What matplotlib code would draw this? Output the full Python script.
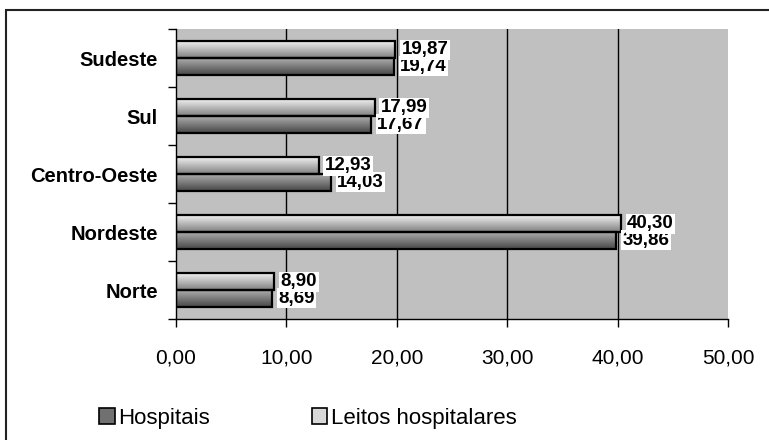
import numpy as np
import matplotlib
matplotlib.use('Agg')
import matplotlib.pyplot as plt
from matplotlib.patches import Rectangle
from matplotlib.ticker import MultipleLocator

plt.rcParams['font.family'] = ['Liberation Sans', 'DejaVu Sans']

# regiões, de baixo para cima
regioes = ['Norte', 'Nordeste', 'Centro-Oeste', 'Sul', 'Sudeste']
hospitais = [8.69, 39.86, 14.03, 17.67, 19.74]
leitos = [8.90, 40.30, 12.93, 17.99, 19.87]
rotulos_x = ['0,00', '10,00', '20,00', '30,00', '40,00', '50,00']

fig = plt.figure(figsize=(7.69, 4.40), dpi=100)
ax = fig.add_axes([176 / 769, 1 - 319 / 440, 552 / 769, 290 / 440])
ax.set_facecolor('#c0c0c0')

# degradê vertical de cada série
grad_leitos = np.linspace(0.94, 0.50, 64).reshape(-1, 1)
grad_hosp = np.linspace(0.68, 0.28, 64).reshape(-1, 1)

altura = 0.29
y = np.arange(len(regioes))


def barras(valores, desloc, grad):
    rects = ax.barh(y + desloc, valores, height=altura, facecolor='none',
                    edgecolor='black', linewidth=1.6, zorder=3)
    for r in rects:
        x0, y0 = r.get_x(), r.get_y()
        im = ax.imshow(grad, cmap='gray', vmin=0, vmax=1, aspect='auto',
                       extent=(x0, x0 + r.get_width(), y0, y0 + r.get_height()),
                       origin='upper', zorder=2, interpolation='bilinear')
        im.set_clip_path(r)
    return rects


barras(leitos, altura / 2, grad_leitos)
barras(hospitais, -altura / 2, grad_hosp)

# rótulos de valores (vírgula decimal)
for i in range(len(regioes)):
    ax.annotate(f'{hospitais[i]:.2f}'.replace('.', ','), (hospitais[i], y[i] - altura / 2),
                xytext=(4.5, 0), textcoords='offset points', va='center', ha='left',
                fontsize=13.5, fontweight='bold', zorder=5,
                bbox=dict(boxstyle='square,pad=0.08', fc='white', ec='none'))
    ax.annotate(f'{leitos[i]:.2f}'.replace('.', ','), (leitos[i], y[i] + altura / 2),
                xytext=(4.5, 0), textcoords='offset points', va='center', ha='left',
                fontsize=13.5, fontweight='bold', zorder=6,
                bbox=dict(boxstyle='square,pad=0.08', fc='white', ec='none'))

ax.set_xlim(0, 50)
ax.set_ylim(-0.5, len(regioes) - 0.5)
ax.set_xticks(np.arange(0, 51, 10))
ax.set_xticklabels(rotulos_x, fontsize=15)
ax.set_yticks(y)
ax.set_yticklabels(regioes, fontsize=14.5, fontweight='bold')
ax.yaxis.set_minor_locator(MultipleLocator(1, offset=0.5))
ax.tick_params(axis='y', which='major', length=0, pad=13)
ax.tick_params(axis='y', which='minor', length=6, width=1, direction='out')
ax.tick_params(axis='x', length=6, width=1, direction='out', pad=15)
ax.set_yticks(np.arange(-0.5, len(regioes), 1), minor=True)

for v in [10, 20, 30, 40]:
    ax.axvline(v, color='black', linewidth=1, zorder=1)

for s in ['top', 'right']:
    ax.spines[s].set_visible(False)
for s in ['left', 'bottom']:
    ax.spines[s].set_color('black')
    ax.spines[s].set_linewidth(1)

# legenda
h1 = Rectangle((0, 0), 1, 1, facecolor='#707070', edgecolor='black', linewidth=1.2)
h2 = Rectangle((0, 0), 1, 1, facecolor='#d8d8d8', edgecolor='black', linewidth=1.2)
fig.legend([h1, h2], ['Hospitais', 'Leitos hospitalares'], ncol=2, frameon=False,
           loc='center left', bbox_to_anchor=(99 / 769, 1 - 418 / 440),
           prop={'size': 16}, handlelength=0.7, handleheight=0.7, handletextpad=0.15,
           columnspacing=4.6, borderpad=0, borderaxespad=0)

# moldura externa
fig.patches.append(Rectangle((6 / 769, -0.1), 1.2, 1.1 - 10 / 440, transform=fig.transFigure,
                             fill=False, edgecolor='#222222', linewidth=1.5))

fig.savefig('out.png', dpi=100, facecolor='white')
